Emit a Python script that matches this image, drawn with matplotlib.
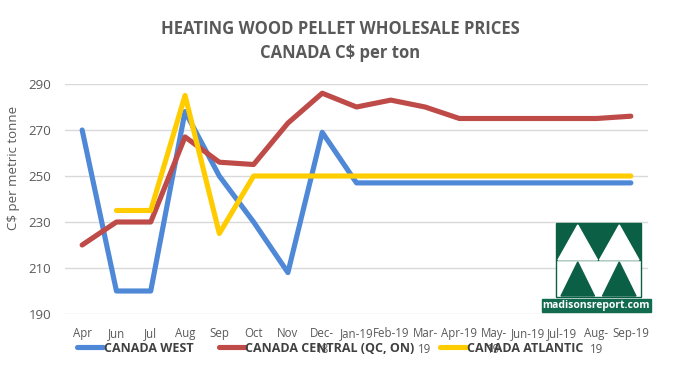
import numpy as np
import matplotlib.pyplot as plt
from matplotlib.patches import Rectangle, Polygon

# datos
meses = ['Apr', 'Jun', 'Jul', 'Aug', 'Sep', 'Oct', 'Nov', 'Dec-\n18', 'Jan-19',
         'Feb-19', 'Mar-\n19', 'Apr-19', 'May-\n19', 'Jun-19', 'Jul-19',
         'Aug-\n19', 'Sep-19']
west = [270, 200, 200, 278, 250, 230, 208, 269, 247, 247, 247, 247, 247, 247,
        247, 247, 247]
central = [220, 230, 230, 267, 256, 255, 273, 286, 280, 283, 280, 275, 275,
           275, 275, 275, 276]
atlantic = [np.nan, 235, 235, 285, 225, 250, 250, 250, 250, 250, 250, 250,
            250, 250, 250, 250, 250]
yticks = [190, 210, 230, 250, 270, 290]

plt.rcParams['font.family'] = ['Open Sans', 'DejaVu Sans']
gris = '#595959'

fig = plt.figure(figsize=(6.8, 3.65), dpi=100)
W, H = 680, 365
ax = fig.add_axes([65 / W, 1 - 314 / H, (648 - 65) / W, (314 - 84) / H])

x = np.arange(len(meses))
kw = dict(lw=3.7, solid_joinstyle='round', solid_capstyle='round')
ax.plot(x, west, color='#4E88D6', label='CANADA WEST', **kw)
ax.plot(x, central, color='#BE4B48', label='CANADA CENTRAL (QC, ON)', **kw)
ax.plot(x, atlantic, color='#FFCC00', label='CANADA ATLANTIC', **kw)

ax.set_xlim(-0.5, len(meses) - 0.5)
ax.set_ylim(190, 290)
ax.set_yticks(yticks)
ax.set_xticks(x)
ax.set_xticklabels(meses, fontsize=8.3, color=gris, linespacing=1.3)
ax.tick_params(axis='y', length=0, pad=10, labelsize=9.5, labelcolor=gris)
ax.tick_params(axis='x', length=0, pad=9.5)
ax.grid(axis='y', color='#D9D9D9', lw=1)
ax.set_axisbelow(True)
for s in ax.spines.values():
    s.set_visible(False)

fig.text(13 / W, 1 - 168 / H, 'C$ per metric tonne', rotation=90,
         ha='center', va='center', fontsize=9.5, color=gris)

fig.text(0.5, 1 - 29 / H, 'HEATING WOOD PELLET WHOLESALE PRICES',
         ha='center', va='center', fontsize=12, fontweight='bold',
         color=gris)
fig.text(0.5, 1 - 53 / H, 'CANADA C$ per ton', ha='center', va='center',
         fontsize=12, fontweight='bold', color=gris)

leg = fig.legend(loc='center', bbox_to_anchor=(330 / W, 1 - 348 / H), ncol=3,
                 frameon=False, handlelength=2.1, handletextpad=0.05,
                 columnspacing=2.0, borderpad=0,
                 prop={'size': 9, 'weight': 'bold'})
for t in leg.get_texts():
    t.set_color('#404040')

# logo madisonsreport
verde = '#0B5F45'


def px(xp, yp):
    return (xp / W, 1 - yp / H)


x0, x1, y0, ym, y1 = 556, 641, 223, 260, 297
xm = (x0 + x1) / 2
fig.patches.append(Rectangle(px(x0, ym), (x1 - x0) / W, (ym - y0) / H,
                             transform=fig.transFigure, color=verde))
fig.patches.append(Rectangle(px(x0, y1), (x1 - x0) / W, (y1 - ym) / H,
                             transform=fig.transFigure, color='white',
                             ec=verde, lw=1))
for a, b in [(x0 + 2, xm - 1), (xm + 1, x1 - 2)]:
    fig.patches.append(Polygon([px(a, ym), px(b, ym), px((a + b) / 2, y0 + 2)],
                               transform=fig.transFigure, color='white'))
    fig.patches.append(Polygon([px(a + 3, y1 - 1), px(b - 3, y1 - 1),
                                px((a + b) / 2, ym + 2)],
                               transform=fig.transFigure, color=verde))
fig.patches.append(Rectangle(px(542, 312), 109 / W, 13 / H,
                             transform=fig.transFigure, color='#126B4E'))
fig.text(596 / W, 1 - 305.5 / H, 'madisonsreport.com', ha='center',
         va='center', fontsize=7.5, fontweight='bold', color='white')

fig.savefig('out.png', dpi=100)
